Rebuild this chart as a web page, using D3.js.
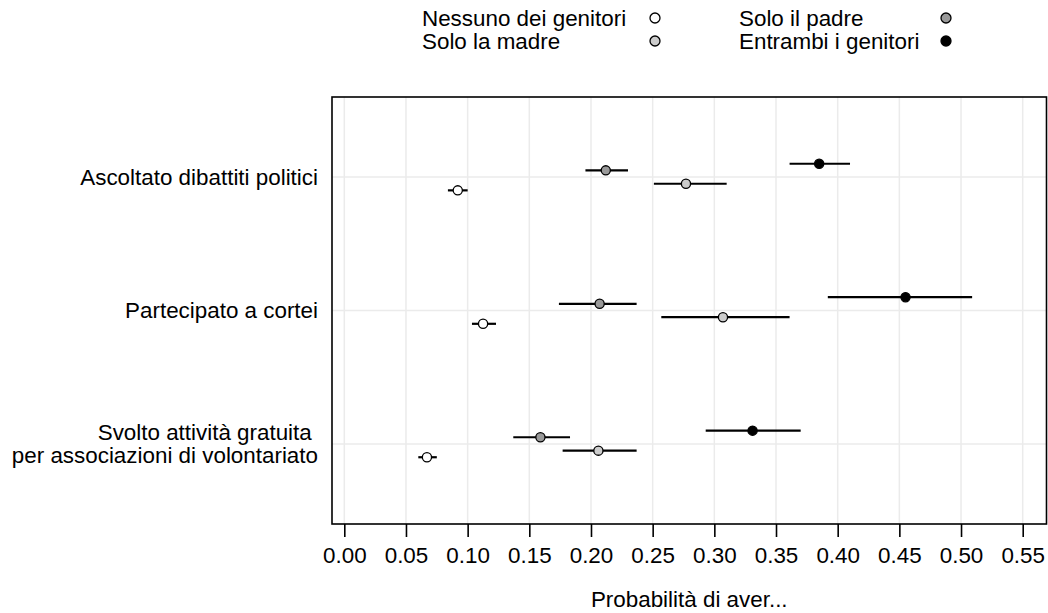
<!DOCTYPE html>
<html>
<head>
<meta charset="utf-8">
<script src="https://cdn.jsdelivr.net/npm/d3@7"></script>
<style>
  body { margin: 0; background: #fff; }
  svg text { font-family: "Liberation Sans", Arial, sans-serif; fill: #000; }
</style>
</head>
<body>
<svg id="chart" width="1048" height="613"></svg>
<script>
'use strict';

// data
var categories = [
  'Ascoltato dibattiti politici',
  'Partecipato a cortei',
  'Svolto attività gratuita \nper associazioni di volontariato'
];
var groups = ['Nessuno dei genitori', 'Solo la madre', 'Solo il padre', 'Entrambi i genitori'];
var fills = ['#ffffff', '#cccccc', '#999999', '#000000'];

var estNessuno  = [0.092, 0.1125, 0.067];
var lowNessuno  = [0.084, 0.1035, 0.060];
var highNessuno = [0.100, 0.1230, 0.075];

var estMadre  = [0.277, 0.307, 0.206];
var lowMadre  = [0.251, 0.257, 0.177];
var highMadre = [0.310, 0.361, 0.237];

var estPadre  = [0.212, 0.207, 0.159];
var lowPadre  = [0.1955, 0.174, 0.137];
var highPadre = [0.230, 0.237, 0.183];

var estEntrambi  = [0.385, 0.455, 0.331];
var lowEntrambi  = [0.361, 0.392, 0.293];
var highEntrambi = [0.410, 0.509, 0.370];

var xTicks = [0, 0.05, 0.10, 0.15, 0.20, 0.25, 0.30, 0.35, 0.40, 0.45, 0.50, 0.55];
var xTitle = 'Probabilità di aver...';

var est  = [estNessuno, estMadre, estPadre, estEntrambi];
var low  = [lowNessuno, lowMadre, lowPadre, lowEntrambi];
var high = [highNessuno, highMadre, highPadre, highEntrambi];

var rows = [];
groups.forEach(function(g, gi) {
  categories.forEach(function(c, ci) {
    rows.push({ group: g, cat: c, est: est[gi][ci], low: low[gi][ci], high: high[gi][ci] });
  });
});

var box = { left: 332, right: 1046.5, top: 97, bottom: 524 };
var fs = 22.4;

var svg = d3.select('#chart');

var x = d3.scaleLinear().domain([0, 0.55]).range([344.3, 1022.7]);
var y = d3.scalePoint().domain(categories).range([box.top, box.bottom]).padding(0.6);
var dodge = d3.scaleOrdinal().domain(groups).range([13.3, 6.7, -6.7, -13.3]);
var color = d3.scaleOrdinal().domain(groups).range(fills);

// grid
var grid = svg.append('g').attr('stroke', '#ebebeb').attr('stroke-width', 1.5);
grid.selectAll('.gv').data(xTicks).enter().append('line')
    .attr('x1', function(d) { return x(d); }).attr('x2', function(d) { return x(d); })
    .attr('y1', box.top).attr('y2', box.bottom);
grid.selectAll('.gh').data(categories).enter().append('line')
    .attr('x1', box.left).attr('x2', box.right)
    .attr('y1', function(d) { return y(d); }).attr('y2', function(d) { return y(d); });

// CIs and points
svg.append('g').selectAll('line').data(rows).enter().append('line')
    .attr('x1', function(d) { return x(d.low); })
    .attr('x2', function(d) { return x(d.high); })
    .attr('y1', function(d) { return y(d.cat) + dodge(d.group); })
    .attr('y2', function(d) { return y(d.cat) + dodge(d.group); })
    .attr('stroke', '#000').attr('stroke-width', 2.2);

svg.append('g').selectAll('circle').data(rows).enter().append('circle')
    .attr('cx', function(d) { return x(d.est); })
    .attr('cy', function(d) { return y(d.cat) + dodge(d.group); })
    .attr('r', 4.6)
    .attr('fill', function(d) { return color(d.group); })
    .attr('stroke', '#000').attr('stroke-width', 1.3);

// frame
svg.append('rect')
    .attr('x', box.left).attr('y', box.top)
    .attr('width', box.right - box.left).attr('height', box.bottom - box.top)
    .attr('fill', 'none').attr('stroke', '#000').attr('stroke-width', 1.6);

// x axis
var xAxis = d3.axisBottom(x).tickValues(xTicks).tickFormat(d3.format('.2f'))
    .tickSize(13).tickPadding(10);
var gx = svg.append('g').attr('transform', 'translate(0,' + box.bottom + ')').call(xAxis);
gx.select('.domain').remove();
gx.selectAll('.tick line').attr('stroke', '#000').attr('stroke-width', 1.6);
gx.selectAll('.tick text').attr('font-size', fs).attr('fill', '#000')
    .attr('font-family', '"Liberation Sans", Arial, sans-serif');

svg.append('text')
    .attr('x', (box.left + box.right) / 2).attr('y', 607)
    .attr('text-anchor', 'middle').attr('font-size', fs)
    .text(xTitle);

// y labels
var yl = svg.append('g').selectAll('text').data(categories).enter().append('text')
    .attr('text-anchor', 'end').attr('font-size', fs)
    .attr('xml:space', 'preserve').style('white-space', 'pre');
yl.each(function(d) {
  var lines = d.split('\n');
  var t = d3.select(this);
  var base = y(d) + 0.35 * fs - (lines.length - 1) * 11.3;
  lines.forEach(function(l, i) {
    t.append('tspan').attr('x', 318).attr('y', base + i * 22.6).text(l);
  });
});

// legend
var legPos = [
  { tx: 422, cx: 655, cy: 18 },
  { tx: 422, cx: 655, cy: 41 },
  { tx: 739, cx: 946, cy: 18 },
  { tx: 739, cx: 946, cy: 41 }
];
var leg = svg.append('g').selectAll('g').data(groups).enter().append('g');
leg.append('text')
    .attr('x', function(d, i) { return legPos[i].tx; })
    .attr('y', function(d, i) { return legPos[i].cy + 0.35 * fs; })
    .attr('font-size', fs)
    .text(function(d) { return d; });
leg.append('circle')
    .attr('cx', function(d, i) { return legPos[i].cx; })
    .attr('cy', function(d, i) { return legPos[i].cy; })
    .attr('r', 5)
    .attr('fill', function(d) { return color(d); })
    .attr('stroke', '#000').attr('stroke-width', 1.3);
</script>
</body>
</html>
